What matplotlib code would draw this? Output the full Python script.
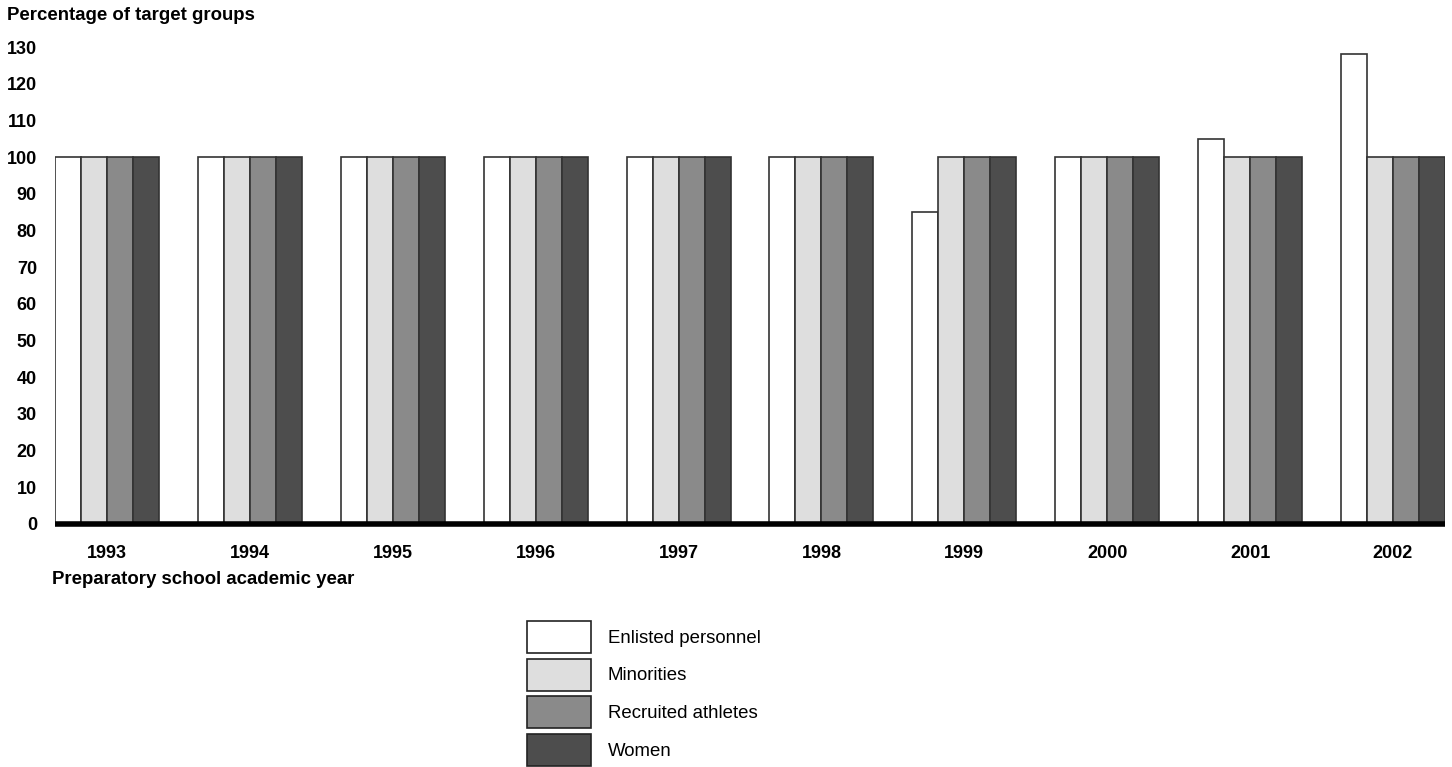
import numpy as np
import matplotlib
matplotlib.use('Agg')
import matplotlib.pyplot as plt
from matplotlib.patches import Patch

plt.rcParams['font.family'] = ['Liberation Sans', 'DejaVu Sans']

# data
years = ['1993', '1994', '1995', '1996', '1997', '1998', '1999', '2000', '2001', '2002']
enlisted = [100, 100, 100, 100, 100, 100, 85, 100, 105, 128]
minorities = [100, 100, 100, 100, 100, 100, 100, 100, 100, 100]
athletes = [100, 100, 100, 100, 100, 100, 100, 100, 100, 100]
women = [100, 100, 100, 100, 100, 100, 100, 100, 100, 100]

series = [enlisted, minorities, athletes, women]
names = ['Enlisted personnel', 'Minorities', 'Recruited athletes', 'Women']
colors = ['#ffffff', '#dedede', '#8a8a8a', '#4d4d4d']

fs = 13

fig = plt.figure(figsize=(14.52, 7.67), dpi=100)
ax = fig.add_axes([55 / 1452, 243 / 767, 1390 / 1452, 477 / 767])

x = np.arange(len(years))
w = 0.182
for i, vals in enumerate(series):
    ax.bar(x + (i - 1.5) * w, vals, w, color=colors[i], edgecolor='#333333',
           linewidth=1.2, zorder=2)

# thick base line
ax.axhline(0, color='black', lw=4, zorder=3, clip_on=False, solid_capstyle='butt')
ax.set_xlim(-0.364, len(years) - 1 + 0.364)
ax.set_ylim(0, 130)
ax.set_yticks(np.arange(0, 131, 10))
ax.set_xticks(x)
ax.set_xticklabels(years)
for s in ax.spines.values():
    s.set_visible(False)
ax.tick_params(length=0, labelsize=fs)
ax.tick_params(axis='y', pad=13)
ax.tick_params(axis='x', pad=15)
for t in ax.get_xticklabels() + ax.get_yticklabels():
    t.set_fontweight('bold')

fig.text(7 / 1452, 1 - 16 / 767, 'Percentage of target groups', fontsize=fs + 0.4,
         fontweight='bold', va='center', ha='left')
fig.text(52 / 1452, 1 - 580 / 767, 'Preparatory school academic year', fontsize=fs + 0.4,
         fontweight='bold', va='center', ha='left')

handles = [Patch(facecolor=c, edgecolor='#222222', linewidth=1.2) for c in colors]
fig.legend(handles, names, loc='upper left', bbox_to_anchor=(527 / 1452, 1 - 621 / 767),
           frameon=False, fontsize=fs + 0.4, handlelength=3.45, handleheight=2.25,
           labelspacing=0.32, handletextpad=0.9, borderpad=0, borderaxespad=0)

fig.savefig('out.png', dpi=100)
